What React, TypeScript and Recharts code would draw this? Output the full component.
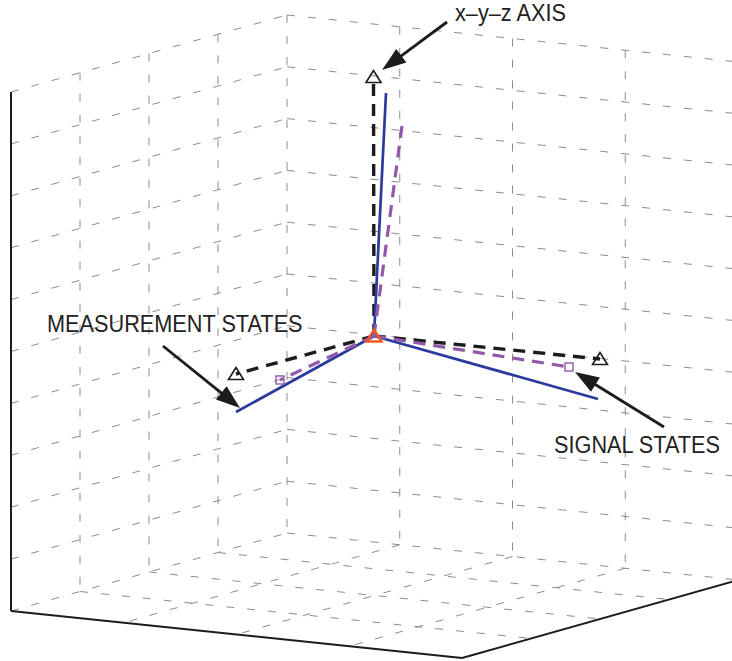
import React from 'react';
import { ScatterChart, Scatter, XAxis, YAxis, ReferenceLine, ReferenceDot } from 'recharts';

const WIDTH = 732;
const HEIGHT = 661;

// Projected corners of the 3-D axes box, in plot units
const leftTop = [11, 92];
const leftBottom = [11, 611];
const backTop = [287, 15];
const backBottom = [287, 533];
const rightTop = [738, 62];
const rightBottom = [738, 580];
const frontBottom = [462, 658];

const wallSteps = 4; // grid cells along each horizontal box edge
const heightSteps = 10; // grid cells up the box

// Common origin of the three vector sets
const originX = [374];
const originY = [336];

// One entry per arm: up, left, right
const axisTipX = [373.5, 236, 600];
const axisTipY = [77, 374, 359];
const measurementTipX = [386, 236, 598];
const measurementTipY = [93, 412, 399];
const signalTipX = [402, 280, 569];
const signalTipY = [126, 380, 367];

// Annotations
const labelText = ['x\u2013y\u2013z AXIS', 'MEASUREMENT STATES', 'SIGNAL STATES'];
const labelX = [455, 47, 554];
const labelY = [21, 332, 453];
const arrowFromX = [447, 163, 664];
const arrowFromY = [22, 346, 427];
const arrowToX = [382, 240, 575];
const arrowToY = [70, 408, 372];

type Pt = { x: number; y: number };

const lerp = (a: number[], b: number[], t: number): Pt => ({
  x: a[0] + (b[0] - a[0]) * t,
  y: a[1] + (b[1] - a[1]) * t,
});

const pt = (a: number[]): Pt => ({ x: a[0], y: a[1] });

// Dashed grid on the two back walls and the floor
function gridSegments(): [Pt, Pt][] {
  const segs: [Pt, Pt][] = [];
  for (let i = 1; i <= wallSteps; i++) {
    const t = i / wallSteps;
    segs.push([lerp(leftTop, backTop, t), lerp(leftBottom, backBottom, t)]);
    segs.push([lerp(backTop, rightTop, t), lerp(backBottom, rightBottom, t)]);
  }
  for (let j = 0; j <= heightSteps; j++) {
    const t = j / heightSteps;
    segs.push([lerp(leftTop, leftBottom, t), lerp(backTop, backBottom, t)]);
    segs.push([lerp(backTop, backBottom, t), lerp(rightTop, rightBottom, t)]);
  }
  for (let i = 1; i < wallSteps; i++) {
    const t = i / wallSteps;
    segs.push([lerp(leftBottom, backBottom, t), lerp(frontBottom, rightBottom, t)]);
    segs.push([lerp(backBottom, rightBottom, t), lerp(leftBottom, frontBottom, t)]);
  }
  return segs;
}

// Solid box edges: z axis and the two front floor edges
const axisLines: [Pt, Pt][] = [
  [pt(leftTop), pt(leftBottom)],
  [pt(leftBottom), pt(frontBottom)],
  [pt(frontBottom), pt(rightBottom)],
];

const arm = (tx: number[], ty: number[], i: number): Pt[] => [
  { x: originX[0], y: originY[0] },
  { x: tx[i], y: ty[i] },
];

const tips = (tx: number[], ty: number[]): Pt[] => tx.map((x, i) => ({ x, y: ty[i] }));

const AXIS_BLACK = '#1c1c1c';
const BLUE = '#2b3a9c';
const PURPLE = '#9159ab';
const ORANGE = '#ef5a1e';
const GRID = '#8c8c8c';
const FONT = '"Liberation Sans", Arial, Helvetica, sans-serif';

const noMarker = () => <g />;

const triangle = (color: string, width: number) => (props: any) => {
  const { cx, cy } = props;
  const pts = `${cx},${cy - 6.5} ${cx - 7.5},${cy + 5.5} ${cx + 7.5},${cy + 5.5}`;
  return <polygon points={pts} fill="none" stroke={color} strokeWidth={width} strokeLinejoin="miter" />;
};

const square = (props: any) => {
  const { cx, cy } = props;
  return <rect x={cx - 4} y={cy - 4} width={8} height={8} fill="none" stroke={PURPLE} strokeWidth={1.4} />;
};

const arrowShape = (p: any) => {
  const { x1, y1, x2, y2 } = p;
  const dx = x2 - x1;
  const dy = y2 - y1;
  const len = Math.hypot(dx, dy) || 1;
  const ux = dx / len;
  const uy = dy / len;
  const headLen = 24;
  const headHalf = 8.5;
  const bx = x2 - ux * headLen;
  const by = y2 - uy * headLen;
  return (
    <g>
      <line x1={x1} y1={y1} x2={bx + ux * 3} y2={by + uy * 3} stroke={AXIS_BLACK} strokeWidth={2.8} />
      <polygon
        points={`${x2},${y2} ${bx - uy * headHalf},${by + ux * headHalf} ${bx + uy * headHalf},${by - ux * headHalf}`}
        fill={AXIS_BLACK}
      />
    </g>
  );
};

const textShape = (text: string) => (p: any) => (
  <text
    x={0}
    y={0}
    transform={`translate(${p.cx},${p.cy}) scale(1,1.07)`}
    fontFamily={FONT}
    fontSize={21.7}
    fill="#222"
  >
    {text}
  </text>
);

export default function App() {
  const grid = gridSegments();
  return (
    <div style={{ width: WIDTH, height: HEIGHT, background: '#fff' }}>
      <style>{'body{margin:0;background:#fff;}'}</style>
      <ScatterChart width={WIDTH} height={HEIGHT} margin={{ top: 0, right: 0, bottom: 0, left: 0 }}>
        <XAxis type="number" dataKey="x" domain={[0, WIDTH]} allowDataOverflow hide />
        <YAxis type="number" dataKey="y" domain={[0, HEIGHT]} allowDataOverflow reversed hide />

        {grid.map((seg, k) => (
          <ReferenceLine
            key={`g${k}`}
            segment={seg}
            ifOverflow="visible"
            stroke={GRID}
            strokeWidth={1}
            strokeDasharray="8 13"
          />
        ))}
        {axisLines.map((seg, k) => (
          <ReferenceLine key={`a${k}`} segment={seg} ifOverflow="visible" stroke={AXIS_BLACK} strokeWidth={2} />
        ))}

        {[0, 1, 2].map((i) => (
          <Scatter
            key={`ax${i}`}
            data={arm(axisTipX, axisTipY, i)}
            line={{ stroke: AXIS_BLACK, strokeWidth: 3.4, strokeDasharray: '12 8' }}
            shape={noMarker}
            isAnimationActive={false}
          />
        ))}
        {[0, 1, 2].map((i) => (
          <Scatter
            key={`ms${i}`}
            data={arm(measurementTipX, measurementTipY, i)}
            line={{ stroke: BLUE, strokeWidth: 2.7 }}
            shape={noMarker}
            isAnimationActive={false}
          />
        ))}
        {[0, 1, 2].map((i) => (
          <Scatter
            key={`sg${i}`}
            data={arm(signalTipX, signalTipY, i)}
            line={{ stroke: PURPLE, strokeWidth: 3.2, strokeDasharray: '12 8' }}
            shape={noMarker}
            isAnimationActive={false}
          />
        ))}

        <Scatter data={tips(axisTipX, axisTipY)} shape={triangle(AXIS_BLACK, 1.6)} isAnimationActive={false} />
        <Scatter data={tips(signalTipX.slice(1), signalTipY.slice(1))} shape={square} isAnimationActive={false} />
        <Scatter data={tips(originX, originY)} shape={triangle(ORANGE, 2.3)} isAnimationActive={false} />

        {labelText.map((t, i) => (
          <ReferenceLine
            key={`ar${i}`}
            segment={[
              { x: arrowFromX[i], y: arrowFromY[i] },
              { x: arrowToX[i], y: arrowToY[i] },
            ]}
            ifOverflow="visible"
            shape={arrowShape}
          />
        ))}
        {labelText.map((t, i) => (
          <ReferenceDot key={`lb${i}`} x={labelX[i]} y={labelY[i]} r={0} ifOverflow="visible" shape={textShape(t)} />
        ))}
      </ScatterChart>
    </div>
  );
}
